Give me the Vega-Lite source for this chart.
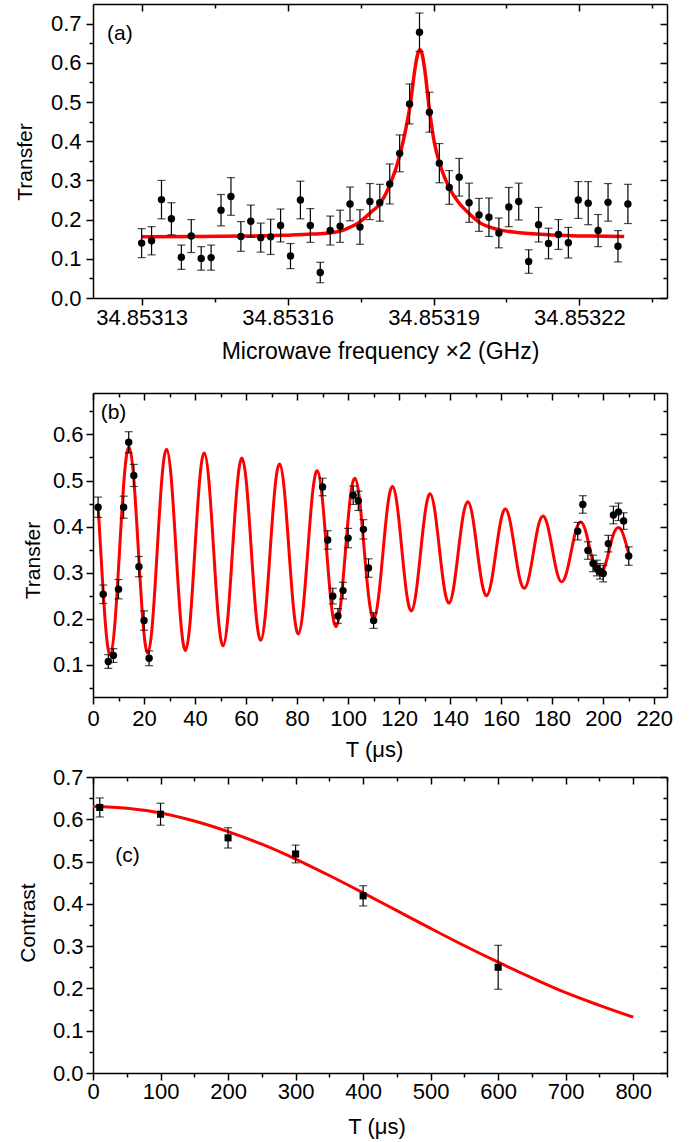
{
"$schema": "https://vega.github.io/schema/vega-lite/v6.json",
"padding": {"left": 14, "top": 3, "right": 10, "bottom": 4},
"background": "white",
"config": {
  "view": {"stroke": null},
  "font": "Liberation Sans",
  "axis": {"grid": false, "domainColor": "black", "domainWidth": 1.5, "tickColor": "black", "tickWidth": 1.5, "labelColor": "black", "titleColor": "black", "labelFont": "Liberation Sans", "titleFont": "Liberation Sans", "labelFontSize": 22, "titleFontSize": 21, "titleFontWeight": "normal", "labelFlush": false, "labelOverlap": false},
  "text": {"font": "Liberation Sans", "fontSize": 21, "color": "black"}
},
"datasets": {
  "a_pts": [
    {"f": 34.85313000, "transfer": 0.140, "err": 0.037},
    {"f": 34.85313204, "transfer": 0.146, "err": 0.036},
    {"f": 34.85313408, "transfer": 0.251, "err": 0.049},
    {"f": 34.85313612, "transfer": 0.202, "err": 0.041},
    {"f": 34.85313816, "transfer": 0.104, "err": 0.031},
    {"f": 34.85314020, "transfer": 0.158, "err": 0.042},
    {"f": 34.85314224, "transfer": 0.101, "err": 0.030},
    {"f": 34.85314428, "transfer": 0.103, "err": 0.032},
    {"f": 34.85314632, "transfer": 0.224, "err": 0.040},
    {"f": 34.85314836, "transfer": 0.259, "err": 0.048},
    {"f": 34.85315040, "transfer": 0.157, "err": 0.038},
    {"f": 34.85315244, "transfer": 0.196, "err": 0.041},
    {"f": 34.85315448, "transfer": 0.154, "err": 0.037},
    {"f": 34.85315652, "transfer": 0.156, "err": 0.045},
    {"f": 34.85315856, "transfer": 0.185, "err": 0.042},
    {"f": 34.85316060, "transfer": 0.107, "err": 0.032},
    {"f": 34.85316264, "transfer": 0.250, "err": 0.048},
    {"f": 34.85316468, "transfer": 0.185, "err": 0.043},
    {"f": 34.85316672, "transfer": 0.065, "err": 0.026},
    {"f": 34.85316876, "transfer": 0.172, "err": 0.037},
    {"f": 34.85317080, "transfer": 0.183, "err": 0.041},
    {"f": 34.85317284, "transfer": 0.240, "err": 0.043},
    {"f": 34.85317488, "transfer": 0.181, "err": 0.044},
    {"f": 34.85317692, "transfer": 0.246, "err": 0.046},
    {"f": 34.85317896, "transfer": 0.243, "err": 0.047},
    {"f": 34.85318100, "transfer": 0.291, "err": 0.051},
    {"f": 34.85318304, "transfer": 0.369, "err": 0.047},
    {"f": 34.85318508, "transfer": 0.495, "err": 0.051},
    {"f": 34.85318712, "transfer": 0.678, "err": 0.049},
    {"f": 34.85318916, "transfer": 0.474, "err": 0.051},
    {"f": 34.85319120, "transfer": 0.344, "err": 0.050},
    {"f": 34.85319324, "transfer": 0.282, "err": 0.043},
    {"f": 34.85319528, "transfer": 0.308, "err": 0.048},
    {"f": 34.85319732, "transfer": 0.243, "err": 0.050},
    {"f": 34.85319936, "transfer": 0.212, "err": 0.042},
    {"f": 34.85320140, "transfer": 0.206, "err": 0.049},
    {"f": 34.85320344, "transfer": 0.166, "err": 0.038},
    {"f": 34.85320548, "transfer": 0.232, "err": 0.050},
    {"f": 34.85320752, "transfer": 0.246, "err": 0.047},
    {"f": 34.85320956, "transfer": 0.093, "err": 0.030},
    {"f": 34.85321160, "transfer": 0.187, "err": 0.044},
    {"f": 34.85321364, "transfer": 0.139, "err": 0.039},
    {"f": 34.85321568, "transfer": 0.162, "err": 0.038},
    {"f": 34.85321772, "transfer": 0.141, "err": 0.039},
    {"f": 34.85321976, "transfer": 0.250, "err": 0.047},
    {"f": 34.85322180, "transfer": 0.242, "err": 0.055},
    {"f": 34.85322384, "transfer": 0.172, "err": 0.041},
    {"f": 34.85322588, "transfer": 0.244, "err": 0.048},
    {"f": 34.85322792, "transfer": 0.132, "err": 0.040},
    {"f": 34.85322996, "transfer": 0.240, "err": 0.050}
  ],
  "a_fit": [
    {"f": 34.85313, "transfer": 0.156},
    {"f": 34.8531422, "transfer": 0.157},
    {"f": 34.8531522, "transfer": 0.158},
    {"f": 34.8531592, "transfer": 0.160},
    {"f": 34.8531652, "transfer": 0.163},
    {"f": 34.8531684, "transfer": 0.166},
    {"f": 34.8531712, "transfer": 0.172},
    {"f": 34.85317255, "transfer": 0.179},
    {"f": 34.85317494, "transfer": 0.195},
    {"f": 34.853177, "transfer": 0.217},
    {"f": 34.85317907, "transfer": 0.242},
    {"f": 34.85318113, "transfer": 0.291},
    {"f": 34.8531832, "transfer": 0.370},
    {"f": 34.8531842, "transfer": 0.425},
    {"f": 34.8531852, "transfer": 0.492},
    {"f": 34.8531862, "transfer": 0.586},
    {"f": 34.8531867, "transfer": 0.620},
    {"f": 34.8531872, "transfer": 0.634},
    {"f": 34.8531877, "transfer": 0.620},
    {"f": 34.8531882, "transfer": 0.582},
    {"f": 34.8531892, "transfer": 0.476},
    {"f": 34.8531902, "transfer": 0.395},
    {"f": 34.8531912, "transfer": 0.346},
    {"f": 34.8531922, "transfer": 0.310},
    {"f": 34.8531932, "transfer": 0.282},
    {"f": 34.8531952, "transfer": 0.243},
    {"f": 34.8531972, "transfer": 0.217},
    {"f": 34.8531992, "transfer": 0.195},
    {"f": 34.8532032, "transfer": 0.175},
    {"f": 34.8532072, "transfer": 0.167},
    {"f": 34.8532142, "transfer": 0.161},
    {"f": 34.8532222, "transfer": 0.158},
    {"f": 34.8532292, "transfer": 0.157}
  ],
  "b_pts": [
    {"t": 2, "transfer": 0.442, "err": 0.022},
    {"t": 4, "transfer": 0.253, "err": 0.020},
    {"t": 6, "transfer": 0.107, "err": 0.015},
    {"t": 8, "transfer": 0.120, "err": 0.015},
    {"t": 10, "transfer": 0.264, "err": 0.021},
    {"t": 12, "transfer": 0.442, "err": 0.024},
    {"t": 14, "transfer": 0.583, "err": 0.023},
    {"t": 16, "transfer": 0.511, "err": 0.024},
    {"t": 18, "transfer": 0.313, "err": 0.022},
    {"t": 20, "transfer": 0.196, "err": 0.021},
    {"t": 22, "transfer": 0.114, "err": 0.016},
    {"t": 90, "transfer": 0.486, "err": 0.019},
    {"t": 92, "transfer": 0.371, "err": 0.020},
    {"t": 94, "transfer": 0.249, "err": 0.017},
    {"t": 96, "transfer": 0.206, "err": 0.016},
    {"t": 98, "transfer": 0.261, "err": 0.018},
    {"t": 100, "transfer": 0.375, "err": 0.021},
    {"t": 102, "transfer": 0.468, "err": 0.020},
    {"t": 104, "transfer": 0.456, "err": 0.021},
    {"t": 106, "transfer": 0.394, "err": 0.021},
    {"t": 108, "transfer": 0.310, "err": 0.020},
    {"t": 110, "transfer": 0.196, "err": 0.017},
    {"t": 190, "transfer": 0.390, "err": 0.019},
    {"t": 192, "transfer": 0.448, "err": 0.019},
    {"t": 194, "transfer": 0.348, "err": 0.019},
    {"t": 196, "transfer": 0.320, "err": 0.018},
    {"t": 197.5, "transfer": 0.310, "err": 0.017},
    {"t": 198.7, "transfer": 0.303, "err": 0.017},
    {"t": 200, "transfer": 0.298, "err": 0.018},
    {"t": 202, "transfer": 0.363, "err": 0.018},
    {"t": 204, "transfer": 0.425, "err": 0.019},
    {"t": 206, "transfer": 0.432, "err": 0.019},
    {"t": 208, "transfer": 0.412, "err": 0.018},
    {"t": 210, "transfer": 0.336, "err": 0.020}
  ],
  "b_fit": [
    {"t": 2, "transfer": 0.445}, {"t": 3.03, "transfer": 0.348}, {"t": 4.875, "transfer": 0.188}, {"t": 6.72, "transfer": 0.122},
    {"t": 8.565, "transfer": 0.188}, {"t": 10.41, "transfer": 0.348}, {"t": 12.255, "transfer": 0.508}, {"t": 14.1, "transfer": 0.573},
    {"t": 15.945, "transfer": 0.507}, {"t": 17.79, "transfer": 0.348}, {"t": 19.635, "transfer": 0.190}, {"t": 21.48, "transfer": 0.125},
    {"t": 23.325, "transfer": 0.191}, {"t": 25.17, "transfer": 0.348}, {"t": 27.015, "transfer": 0.505}, {"t": 28.86, "transfer": 0.568},
    {"t": 30.705, "transfer": 0.503}, {"t": 32.55, "transfer": 0.348}, {"t": 34.395, "transfer": 0.194}, {"t": 36.24, "transfer": 0.131},
    {"t": 38.085, "transfer": 0.195}, {"t": 39.93, "transfer": 0.348}, {"t": 41.775, "transfer": 0.499}, {"t": 43.62, "transfer": 0.560},
    {"t": 45.465, "transfer": 0.497}, {"t": 47.31, "transfer": 0.348}, {"t": 49.155, "transfer": 0.200}, {"t": 51.0, "transfer": 0.141},
    {"t": 52.845, "transfer": 0.202}, {"t": 54.69, "transfer": 0.348}, {"t": 56.535, "transfer": 0.491}, {"t": 58.38, "transfer": 0.549},
    {"t": 60.225, "transfer": 0.490}, {"t": 62.07, "transfer": 0.348}, {"t": 63.915, "transfer": 0.209}, {"t": 65.76, "transfer": 0.153},
    {"t": 67.605, "transfer": 0.211}, {"t": 69.45, "transfer": 0.348}, {"t": 71.295, "transfer": 0.482}, {"t": 73.14, "transfer": 0.536},
    {"t": 74.985, "transfer": 0.480}, {"t": 76.83, "transfer": 0.348}, {"t": 78.675, "transfer": 0.219}, {"t": 80.52, "transfer": 0.167},
    {"t": 82.365, "transfer": 0.222}, {"t": 84.21, "transfer": 0.348}, {"t": 86.055, "transfer": 0.472}, {"t": 87.9, "transfer": 0.521},
    {"t": 89.745, "transfer": 0.469}, {"t": 91.59, "transfer": 0.348}, {"t": 93.435, "transfer": 0.230}, {"t": 95.28, "transfer": 0.183},
    {"t": 97.125, "transfer": 0.233}, {"t": 98.97, "transfer": 0.348}, {"t": 100.815, "transfer": 0.461}, {"t": 102.66, "transfer": 0.505},
    {"t": 104.505, "transfer": 0.458}, {"t": 106.35, "transfer": 0.348}, {"t": 108.195, "transfer": 0.242}, {"t": 110.04, "transfer": 0.200},
    {"t": 111.885, "transfer": 0.245}, {"t": 113.73, "transfer": 0.348}, {"t": 115.575, "transfer": 0.448}, {"t": 117.42, "transfer": 0.487},
    {"t": 119.265, "transfer": 0.445}, {"t": 121.11, "transfer": 0.348}, {"t": 122.955, "transfer": 0.254}, {"t": 124.8, "transfer": 0.217},
    {"t": 126.645, "transfer": 0.257}, {"t": 128.49, "transfer": 0.348}, {"t": 130.335, "transfer": 0.436}, {"t": 132.18, "transfer": 0.471},
    {"t": 134.025, "transfer": 0.433}, {"t": 135.87, "transfer": 0.348}, {"t": 137.715, "transfer": 0.266}, {"t": 139.56, "transfer": 0.234},
    {"t": 141.405, "transfer": 0.269}, {"t": 143.25, "transfer": 0.348}, {"t": 145.095, "transfer": 0.424}, {"t": 146.94, "transfer": 0.454},
    {"t": 148.785, "transfer": 0.422}, {"t": 150.63, "transfer": 0.348}, {"t": 152.475, "transfer": 0.277}, {"t": 154.32, "transfer": 0.250},
    {"t": 156.165, "transfer": 0.280}, {"t": 158.01, "transfer": 0.348}, {"t": 159.855, "transfer": 0.413}, {"t": 161.7, "transfer": 0.438},
    {"t": 163.545, "transfer": 0.410}, {"t": 165.39, "transfer": 0.348}, {"t": 167.235, "transfer": 0.288}, {"t": 169.08, "transfer": 0.266},
    {"t": 170.925, "transfer": 0.291}, {"t": 172.77, "transfer": 0.348}, {"t": 174.615, "transfer": 0.403}, {"t": 176.46, "transfer": 0.423},
    {"t": 178.305, "transfer": 0.400}, {"t": 180.15, "transfer": 0.348}, {"t": 181.995, "transfer": 0.298}, {"t": 183.84, "transfer": 0.280},
    {"t": 185.685, "transfer": 0.301}, {"t": 187.53, "transfer": 0.348}, {"t": 189.375, "transfer": 0.393}, {"t": 191.22, "transfer": 0.410},
    {"t": 193.065, "transfer": 0.391}, {"t": 194.91, "transfer": 0.348}, {"t": 196.755, "transfer": 0.309}, {"t": 198.6, "transfer": 0.296},
    {"t": 200.445, "transfer": 0.311}, {"t": 202.29, "transfer": 0.348}, {"t": 204.135, "transfer": 0.385}, {"t": 205.98, "transfer": 0.398},
    {"t": 207.825, "transfer": 0.383}, {"t": 209.67, "transfer": 0.348}, {"t": 210, "transfer": 0.341}
  ],
  "c_pts": [
    {"t": 10, "contrast": 0.628, "err": 0.0225},
    {"t": 100, "contrast": 0.612, "err": 0.026},
    {"t": 200, "contrast": 0.556, "err": 0.024},
    {"t": 300, "contrast": 0.518, "err": 0.021},
    {"t": 400, "contrast": 0.419, "err": 0.024},
    {"t": 600, "contrast": 0.250, "err": 0.052}
  ],
  "c_fit": [
    {"t": 0, "contrast": 0.630}, {"t": 50, "contrast": 0.626}, {"t": 100, "contrast": 0.615}, {"t": 150, "contrast": 0.596},
    {"t": 200, "contrast": 0.571}, {"t": 250, "contrast": 0.541}, {"t": 300, "contrast": 0.506}, {"t": 350, "contrast": 0.467},
    {"t": 400, "contrast": 0.426}, {"t": 450, "contrast": 0.384}, {"t": 500, "contrast": 0.342}, {"t": 550, "contrast": 0.301},
    {"t": 600, "contrast": 0.262}, {"t": 650, "contrast": 0.225}, {"t": 700, "contrast": 0.190}, {"t": 750, "contrast": 0.160},
    {"t": 800, "contrast": 0.132}
  ]
},
"bounds": "flush",
"spacing": 95,
"vconcat": [
  {
    "width": 574, "height": 294,
    "layer": [
      {"data": {"name": "a_fit"},
       "mark": {"type": "line", "color": "#ff0000", "strokeWidth": 3.5, "interpolate": "monotone"},
       "encoding": {
         "x": {"field": "f", "type": "quantitative", "scale": {"domain": [34.85312, 34.853238], "nice": false, "zero": false},
               "axis": {"orient": "top", "values": [34.85313, 34.853145, 34.85316, 34.853175, 34.85319, 34.853205, 34.85322, 34.853235], "labels": false, "title": null,
                        "tickSize": {"condition": {"test": "abs(round((datum.value - 34.85313) / 0.000015)) % 2 == 0", "value": -7}, "value": -4}}},
         "y": {"field": "transfer", "type": "quantitative", "scale": {"domain": [0, 0.75], "nice": false, "zero": false},
               "axis": {"orient": "right", "values": [0, 0.05, 0.1, 0.15, 0.2, 0.25, 0.3, 0.35, 0.4, 0.45, 0.5, 0.55, 0.6, 0.65, 0.7], "labels": false, "title": null,
                        "tickSize": {"condition": {"test": "round(datum.value * 100) % 10 == 0", "value": -7}, "value": -4}}}
       }},
      {"data": {"name": "a_pts"},
       "mark": {"type": "errorbar", "ticks": true, "size": 8, "thickness": 1.2, "color": "black"},
       "encoding": {
         "x": {"field": "f", "type": "quantitative", "axis": null},
         "y": {"field": "transfer", "type": "quantitative", "axis": null},
         "yError": {"field": "err"}
       }},
      {"data": {"name": "a_pts"},
       "mark": {"type": "point", "shape": "circle", "filled": true, "color": "black", "size": 55, "opacity": 1},
       "encoding": {
         "x": {"field": "f", "type": "quantitative", "scale": {"domain": [34.85312, 34.853238], "nice": false, "zero": false},
               "axis": {"orient": "bottom", "values": [34.85313, 34.853145, 34.85316, 34.853175, 34.85319, 34.853205, 34.85322, 34.853235],
                        "labelExpr": "abs(round((datum.value - 34.85313) / 0.000015)) % 2 == 0 ? format(datum.value, '.5f') : ''",
                        "tickSize": {"condition": {"test": "abs(round((datum.value - 34.85313) / 0.000015)) % 2 == 0", "value": 7}, "value": 4},
                        "labelPadding": 2,
                        "title": "Microwave frequency ×2 (GHz)", "titleFontSize": 23, "titleY": 60.5, "titleBaseline": "alphabetic"}},
         "y": {"field": "transfer", "type": "quantitative", "scale": {"domain": [0, 0.75], "nice": false, "zero": false},
               "axis": {"orient": "left", "values": [0, 0.05, 0.1, 0.15, 0.2, 0.25, 0.3, 0.35, 0.4, 0.45, 0.5, 0.55, 0.6, 0.65, 0.7],
                        "labelExpr": "round(datum.value * 100) % 10 == 0 ? format(datum.value, '.1f') : ''",
                        "tickSize": {"condition": {"test": "round(datum.value * 100) % 10 == 0", "value": 7}, "value": 4},
                        "labelPadding": 5,
                        "title": "Transfer", "titleX": -62, "titleY": 157.5, "titleAngle": -90, "titleAlign": "center", "titleBaseline": "alphabetic"}}
       }},
      {"data": {"values": [{"label": "(a)"}]},
       "mark": {"type": "text", "align": "left", "baseline": "alphabetic", "fontSize": 21},
       "encoding": {
         "x": {"datum": 34.8531229, "type": "quantitative", "axis": null},
         "y": {"datum": 0.659, "type": "quantitative", "axis": null},
         "text": {"field": "label"}
       }}
    ]
  },
  {
    "bounds": "flush",
    "spacing": 80,
    "vconcat": [
      {
        "width": 574, "height": 304,
        "layer": [
          {"data": {"name": "b_fit"},
           "mark": {"type": "line", "color": "#ff0000", "strokeWidth": 3, "interpolate": "natural"},
           "encoding": {
             "x": {"field": "t", "type": "quantitative", "scale": {"domain": [0, 225], "nice": false, "zero": false},
                   "axis": {"orient": "top", "values": [0, 10, 20, 30, 40, 50, 60, 70, 80, 90, 100, 110, 120, 130, 140, 150, 160, 170, 180, 190, 200, 210, 220], "labels": false, "title": null,
                            "tickSize": {"condition": {"test": "datum.value % 20 == 0", "value": -7}, "value": -4}}},
             "y": {"field": "transfer", "type": "quantitative", "scale": {"domain": [0.03, 0.69], "nice": false, "zero": false},
                   "axis": {"orient": "right", "values": [0.05, 0.1, 0.15, 0.2, 0.25, 0.3, 0.35, 0.4, 0.45, 0.5, 0.55, 0.6, 0.65], "labels": false, "title": null,
                            "tickSize": {"condition": {"test": "round(datum.value * 100) % 10 == 0", "value": -7}, "value": -4}}}
           }},
          {"data": {"name": "b_pts"},
           "mark": {"type": "errorbar", "ticks": true, "size": 8, "thickness": 1.2, "color": "black"},
           "encoding": {
             "x": {"field": "t", "type": "quantitative", "axis": null},
             "y": {"field": "transfer", "type": "quantitative", "axis": null},
             "yError": {"field": "err"}
           }},
          {"data": {"name": "b_pts"},
           "mark": {"type": "point", "shape": "circle", "filled": true, "color": "black", "size": 55, "opacity": 1},
           "encoding": {
             "x": {"field": "t", "type": "quantitative", "scale": {"domain": [0, 225], "nice": false, "zero": false},
                   "axis": {"orient": "bottom", "values": [0, 10, 20, 30, 40, 50, 60, 70, 80, 90, 100, 110, 120, 130, 140, 150, 160, 170, 180, 190, 200, 210, 220],
                            "labelExpr": "datum.value % 20 == 0 ? format(datum.value, 'd') : ''",
                            "tickSize": {"condition": {"test": "datum.value % 20 == 0", "value": 7}, "value": 4},
                            "labelPadding": 4,
                            "title": "T (μs)", "titleFontSize": 22, "titleX": 281, "titleY": 59, "titleAlign": "center", "titleBaseline": "alphabetic"}},
             "y": {"field": "transfer", "type": "quantitative", "scale": {"domain": [0.03, 0.69], "nice": false, "zero": false},
                   "axis": {"orient": "left", "values": [0.05, 0.1, 0.15, 0.2, 0.25, 0.3, 0.35, 0.4, 0.45, 0.5, 0.55, 0.6, 0.65],
                            "labelExpr": "round(datum.value * 100) % 10 == 0 ? format(datum.value, '.1f') : ''",
                            "tickSize": {"condition": {"test": "round(datum.value * 100) % 10 == 0", "value": 7}, "value": 4},
                            "labelPadding": 3,
                            "title": "Transfer", "titleX": -54, "titleY": 167, "titleAngle": -90, "titleAlign": "center", "titleBaseline": "alphabetic"}}
           }},
          {"data": {"values": [{"label": "(b)"}]},
           "mark": {"type": "text", "align": "left", "baseline": "alphabetic", "fontSize": 21},
           "encoding": {
             "x": {"datum": 3.0, "type": "quantitative", "axis": null},
             "y": {"datum": 0.634, "type": "quantitative", "axis": null},
             "text": {"field": "label"}
           }}
        ]
      },
      {
        "width": 574, "height": 296,
        "layer": [
          {"data": {"name": "c_fit"},
           "mark": {"type": "line", "color": "#ff0000", "strokeWidth": 3, "interpolate": "monotone"},
           "encoding": {
             "x": {"field": "t", "type": "quantitative", "scale": {"domain": [0, 850], "nice": false, "zero": false},
                   "axis": {"orient": "top", "values": [0, 50, 100, 150, 200, 250, 300, 350, 400, 450, 500, 550, 600, 650, 700, 750, 800, 850], "labels": false, "title": null,
                            "tickSize": {"condition": {"test": "datum.value % 100 == 0", "value": -7}, "value": -4}}},
             "y": {"field": "contrast", "type": "quantitative", "scale": {"domain": [0, 0.7], "nice": false, "zero": false},
                   "axis": {"orient": "right", "values": [0, 0.05, 0.1, 0.15, 0.2, 0.25, 0.3, 0.35, 0.4, 0.45, 0.5, 0.55, 0.6, 0.65, 0.7], "labels": false, "title": null,
                            "tickSize": {"condition": {"test": "round(datum.value * 100) % 10 == 0", "value": -7}, "value": -4}}}
           }},
          {"data": {"name": "c_pts"},
           "mark": {"type": "errorbar", "ticks": true, "size": 8, "thickness": 1.2, "color": "black"},
           "encoding": {
             "x": {"field": "t", "type": "quantitative", "axis": null},
             "y": {"field": "contrast", "type": "quantitative", "axis": null},
             "yError": {"field": "err"}
           }},
          {"data": {"name": "c_pts"},
           "mark": {"type": "point", "shape": "square", "filled": true, "color": "black", "size": 50, "opacity": 1},
           "encoding": {
             "x": {"field": "t", "type": "quantitative", "scale": {"domain": [0, 850], "nice": false, "zero": false},
                   "axis": {"orient": "bottom", "values": [0, 50, 100, 150, 200, 250, 300, 350, 400, 450, 500, 550, 600, 650, 700, 750, 800, 850],
                            "labelExpr": "datum.value % 100 == 0 ? format(datum.value, 'd') : ''",
                            "tickSize": {"condition": {"test": "datum.value % 100 == 0", "value": 7}, "value": 4},
                            "labelPadding": 1,
                            "title": "T (μs)", "titleFontSize": 22, "titleX": 283.5, "titleY": 60, "titleAlign": "center", "titleBaseline": "alphabetic"}},
             "y": {"field": "contrast", "type": "quantitative", "scale": {"domain": [0, 0.7], "nice": false, "zero": false},
                   "axis": {"orient": "left", "values": [0, 0.05, 0.1, 0.15, 0.2, 0.25, 0.3, 0.35, 0.4, 0.45, 0.5, 0.55, 0.6, 0.65, 0.7],
                            "labelExpr": "round(datum.value * 100) % 10 == 0 ? format(datum.value, '.1f') : ''",
                            "tickSize": {"condition": {"test": "round(datum.value * 100) % 10 == 0", "value": 7}, "value": 4},
                            "labelPadding": 3,
                            "title": "Contrast", "titleX": -58.5, "titleY": 145.5, "titleAngle": -90, "titleAlign": "center", "titleBaseline": "alphabetic"}}
           }},
          {"data": {"values": [{"label": "(c)"}]},
           "mark": {"type": "text", "align": "left", "baseline": "alphabetic", "fontSize": 21},
           "encoding": {
             "x": {"datum": 33, "type": "quantitative", "axis": null},
             "y": {"datum": 0.5, "type": "quantitative", "axis": null},
             "text": {"field": "label"}
           }}
        ]
      }
    ]
  }
]
}
